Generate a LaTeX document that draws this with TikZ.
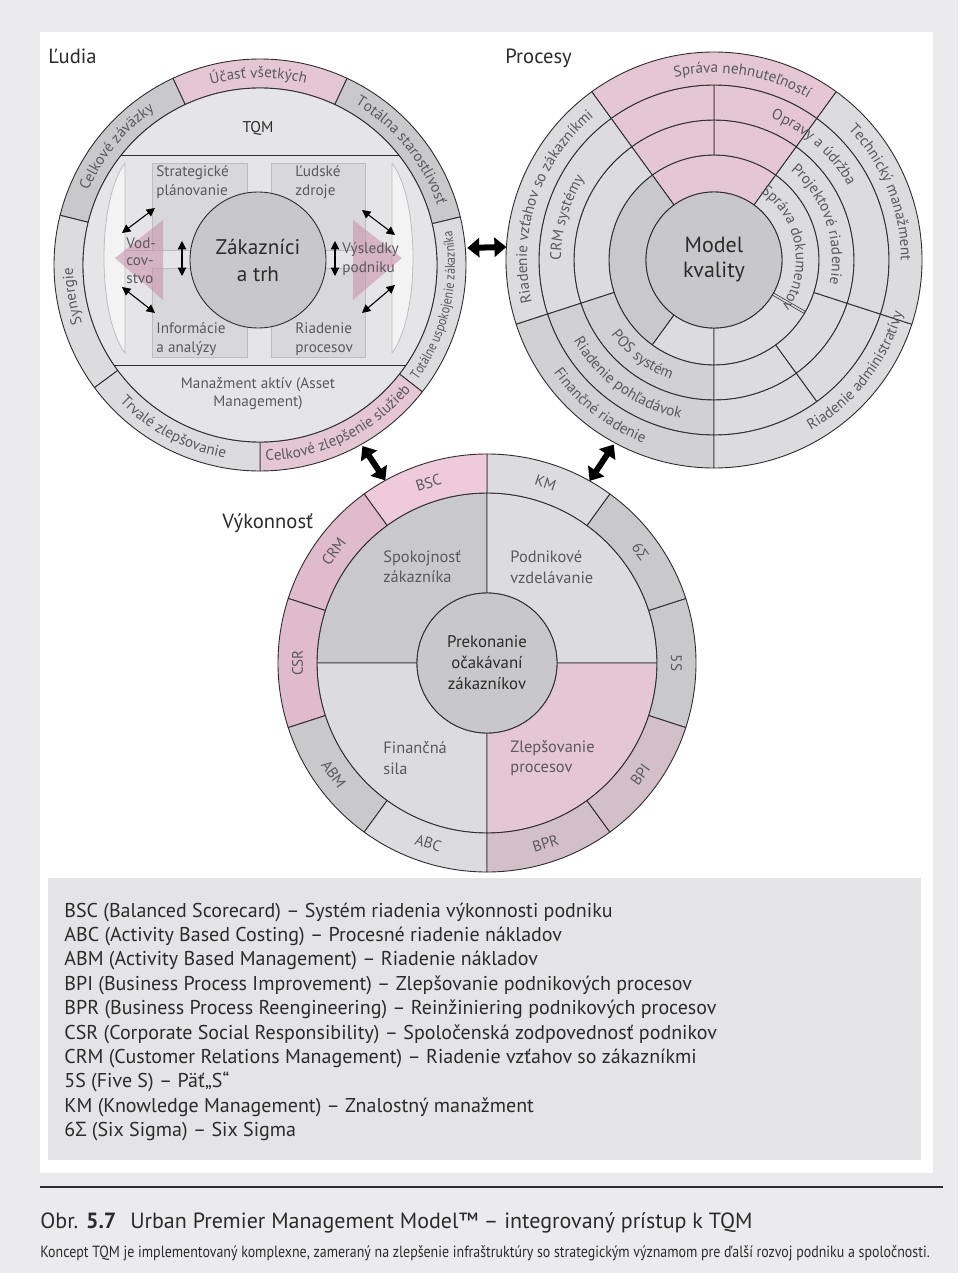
\documentclass[tikz,border=0pt]{standalone}
\usepackage{fontspec}
\setmainfont{PT Sans}
\newfontfamily\narrowfont[FakeStretch=0.86]{PT Sans}
\newfontfamily\greekfont{Open Sans}
\newfontfamily\narrowgreek[FakeStretch=0.92]{Open Sans}
\usetikzlibrary{arrows.meta, positioning, calc, decorations.text}

\definecolor{pagegrey}{HTML}{EBEBED}
\definecolor{legendgrey}{HTML}{E4E4E6}
\definecolor{linegrey}{HTML}{2E2E2E}
\definecolor{seglight}{HTML}{DCDCDE}
\definecolor{segmid}{HTML}{D1D1D3}
\definecolor{segdark}{HTML}{C9C9CB}
\definecolor{segpink}{HTML}{E4C7D3}
\definecolor{segrose}{HTML}{EFCADB}
\definecolor{segberry}{HTML}{E0BBCB}
\definecolor{segmauve}{HTML}{D2BFC7}
\definecolor{discgrey}{HTML}{E5E5E7}
\definecolor{hubgrey}{HTML}{C8C8CA}
\definecolor{boxgrey}{HTML}{D8D8DA}
\definecolor{boxedge}{HTML}{BDBDBF}
\definecolor{ringtxt}{HTML}{5A5A5C}
\definecolor{darktxt}{HTML}{2B2B2B}
\definecolor{arrowpink}{HTML}{C98CA6}

\newcommand{\ringfont}{\fontsize{7.6}{9}\selectfont}
\newcommand{\tightfont}{\narrowfont\fontsize{7}{8}\selectfont}
\newcommand{\legfont}{\fontsize{10}{12}\selectfont}

% annular sector: fill, start angle, end angle, inner radius, outer radius
\newcommand{\seg}[5]{%
  \filldraw[segline, fill=#1] (#2:#4) arc[start angle=#2, end angle=#3, radius=#4]
    -- (#3:#5) arc[start angle=#3, end angle=#2, radius=#5] -- cycle;}
% ring labels: radius of baseline, middle angle, text
\newcommand{\cwtext}[4][\ringfont]{%
  \path[decorate, decoration={text along path, text align=center, text color=ringtxt,
    text={|#1|#4}}] ({#3+75}:#2) arc[start angle={#3+75}, end angle={#3-75}, radius=#2];}
\newcommand{\ccwtext}[4][\ringfont]{%
  \path[decorate, decoration={text along path, text align=center, text color=ringtxt,
    text={|#1|#4}}] ({#3-75}:#2) arc[start angle={#3-75}, end angle={#3+75}, radius=#2];}

\begin{document}
\begin{tikzpicture}[x=0.5pt, y=0.5pt, line join=round]
  \tikzstyle{segline}=[draw=linegrey, line width=0.45pt]
  \tikzstyle{hub}=[circle, draw=linegrey, line width=0.45pt, fill=hubgrey, inner sep=0, align=center, text=darktxt]
  \tikzstyle{boxtxt}=[inner sep=0, align=left, text=ringtxt, font=\fontsize{7.6}{9.5}\selectfont]
  \tikzstyle{quadtxt}=[inner sep=0, align=left, text=ringtxt, font=\fontsize{8.2}{10.2}\selectfont]
  \tikzstyle{ringlabel}=[inner sep=0, text=ringtxt, font=\ringfont]
  \tikzstyle{grouplabel}=[inner sep=0, anchor=base west, text=darktxt, font=\fontsize{10.3}{12}\selectfont]
  \tikzstyle{panel}=[fill=boxgrey, draw=boxedge, line width=0.4pt]
  \tikzstyle{bevel}=[fill=white, fill opacity=0.55, draw=boxedge, line width=0.4pt]
  \tikzstyle{bigarrow}=[line width=3pt, {Triangle[width=9.5pt,length=6pt]}-{Triangle[width=9.5pt,length=6pt]}]
  \tikzstyle{smallarrow}=[line width=0.55pt, {Triangle[width=4.2pt,length=4.2pt]}-{Triangle[width=4.2pt,length=4.2pt]}]
  \tikzstyle{legline}=[inner sep=0, anchor=base west, text=darktxt, font=\legfont]

  \useasboundingbox (0,0) rectangle (958,-1273);
  \fill[pagegrey] (0,0) rectangle (958,-1273);
  \fill[white] (40,-32) rectangle (933,-1173);

  % ---- Ludia ----
  \begin{scope}[shift={(260,-265)}]
    \seg{segpink}{65}{115}{177}{206}
    \seg{segdark}{13.5}{65}{177}{206}
    \seg{seglight}{-38}{13.5}{177}{206}
    \seg{segpink}{-90}{-38}{177}{206}
    \seg{seglight}{-143.5}{-90}{177}{206}
    \seg{seglight}{166}{216.5}{177}{206}
    \seg{segdark}{115}{166}{177}{206}
    \filldraw[segline, fill=discgrey] (0,0) circle[radius=177];
    \begin{scope}
      \clip (0,0) circle[radius=177];
      \draw[segline] (-190,110) -- (190,110);
      \draw[segline] (-190,-100) -- (190,-100);
    \end{scope}
    \cwtext{187}{90.5}{Účasť všetkých}
    \cwtext{187}{39}{Totálna starostlivosť}
    \cwtext{187}{140.5}{Celkové záväzky}
    \cwtext{187}{189.5}{Synergie}
    \ccwtext{196}{-118}{Trvalé zlepšovanie}
    \ccwtext{196}{-64}{Celkové zlepšenie služieb}
    \ccwtext[\tightfont]{195}{-13}{Totálne uspokojenie zákazníka}
    \coordinate (l-e) at (4.7:208);
    \coordinate (l-s) at (-60.5:208);
  \end{scope}

  \filldraw[bevel] (125,-163) .. controls (97,-200) and (97,-316) .. (125,-353) -- cycle;
  \filldraw[bevel] (392,-163) .. controls (420,-200) and (420,-316) .. (392,-353) -- cycle;
  \draw[panel] (152,-163) rectangle (247,-250);
  \draw[panel] (152,-268) rectangle (247,-357);
  \draw[panel] (271,-163) rectangle (365,-250);
  \draw[panel] (271,-268) rectangle (365,-357);
  \draw[boxedge] (125,-250) -- (152,-250) (365,-250) -- (392,-250);
  \fill[arrowpink, opacity=0.55] (163,-220) -- (115,-258) -- (163,-300) -- cycle;
  \fill[arrowpink, opacity=0.55] (353,-220) -- (402,-258) -- (353,-300) -- cycle;

  \node[inner sep=0, text=darktxt, font=\fontsize{7.8}{9}\selectfont] (tqm) at (258,-128) {TQM};
  \node[inner sep=0, align=center, text=ringtxt, font=\fontsize{7.6}{9}\selectfont] (asset) at (258,-394) {Manažment aktív (Asset\\Management)};
  \node[boxtxt, anchor=north west] (strat) at (156,-165) {Strategické\\plánovanie};
  \node[boxtxt, anchor=north west] (zdroje) at (295,-165) {Ľudské\\zdroje};
  \node[boxtxt, anchor=north west] (info) at (156,-322) {Informácie\\a analýzy};
  \node[boxtxt, anchor=north west] (riad) at (295,-322) {Riadenie\\procesov};
  \node[boxtxt, anchor=north west, font=\fontsize{7.6}{8.8}\selectfont] (vod) at (126,-237) {Vod-\\cov-\\stvo};
  \node[boxtxt, anchor=north west] (vysl) at (342,-242) {Výsledky\\podniku};
  \node[hub, minimum size=68pt, font=\fontsize{10.6}{13.5}\selectfont] (trh) at (258,-260) {Zákazníci\\a trh};

  \path (122,-233) coordinate (v1a) (155,-208) coordinate (v1b)
        (122,-287) coordinate (v2a) (155,-313) coordinate (v2b)
        (362,-210) coordinate (v3a) (395,-235) coordinate (v3b)
        (362,-313) coordinate (v4a) (395,-285) coordinate (v4b)
        (182,-241) coordinate (v5a) (182,-276) coordinate (v5b)
        (335,-241) coordinate (v6a) (335,-276) coordinate (v6b);
  \foreach \i in {1,...,6}
    \draw[smallarrow] (v\i a) -- (v\i b);

  % ---- Procesy ----
  \begin{scope}[shift={(714,-260)}]
    \seg{segpink}{54}{126}{68}{105}
    \seg{segdark}{126}{234}{68}{105}
    \seg{seglight}{234}{270}{68}{105}
    \seg{seglight}{270}{330}{68}{105}
    \seg{seglight}{-30}{54}{68}{105}
    \foreach \ri/\ro in {105/140, 140/175} {
      \seg{segpink}{54}{90}{\ri}{\ro}
      \seg{segpink}{90}{126}{\ri}{\ro}
      \seg{seglight}{126}{198}{\ri}{\ro}
      \seg{segmid}{198}{270}{\ri}{\ro}
      \seg{seglight}{270}{306}{\ri}{\ro}
      \seg{seglight}{306}{342}{\ri}{\ro}
      \seg{seglight}{-18}{54}{\ri}{\ro}
    }
    \seg{segpink}{54}{126}{175}{208}
    \seg{seglight}{126}{198}{175}{208}
    \seg{segmid}{198}{270}{175}{208}
    \seg{seglight}{270}{342}{175}{208}
    \seg{seglight}{-18}{54}{175}{208}
    \draw[linegrey, line width=0.35pt, double=seglight, double distance=0.8pt] (-30:68) -- (-30:104);
    \cwtext{187}{81}{Správa nehnuteľností}
    \cwtext{153}{48.5}{Opravy a údržba}
    \cwtext{187}{22}{Technický manažment}
    \cwtext{118}{19}{Projektové riadenie}
    \cwtext{82}{10.5}{Správa dokumentov}
    \ccwtext{196}{-38}{Riadenie administratívy}
    \cwtext{187}{161.5}{Riadenie vzťahov so zákazníkmi}
    \cwtext{153}{164}{CRM systémy}
    \ccwtext{127}{233}{POS systém}
    \ccwtext{162}{234}{Riadenie pohľadávok}
    \ccwtext{196}{232}{Finančné riadenie}
    \coordinate (p-w) at (176.4:208);
    \coordinate (p-s) at (241.5:210);
  \end{scope}
  \node[hub, minimum size=68pt, font=\fontsize{11}{12.5}\selectfont] (model) at (714,-260) {Model\\kvality};

  % ---- Vykonnost ----
  \begin{scope}[shift={(487,-663)}]
    \seg{segdark}{90}{180}{70}{170}
    \seg{seglight}{0}{90}{70}{170}
    \seg{seglight}{180}{270}{70}{170}
    \seg{segpink}{270}{360}{70}{170}
    \foreach \a/\r/\c/\t in {0/-90/segdark/5S, 36/-54/segdark/{6{\greekfont Σ}},
        72/-18/seglight/KM, 108/18/segrose/BSC, 144/54/segberry/CRM,
        180/90/segberry/CSR, 216/-54/segdark/ABM, 252/-18/seglight/ABC,
        288/18/segmauve/BPR, 324/54/segmauve/BPI} {
      \seg{\c}{\a-18}{\a+18}{170}{209}
      \node[ringlabel, rotate=\r] (r\a) at (\a:189.5) {\t};
    }
    \coordinate (v-nw) at (119.1:209);
    \coordinate (v-ne) at (60.6:209);
  \end{scope}
  \node[hub, minimum size=70pt, font=\fontsize{8.4}{10.5}\selectfont] (prek) at (487,-663) {Prekonanie\\očakávaní\\zákazníkov};
  \node[quadtxt, anchor=west] (spok) at (383,-567) {Spokojnosť\\zákazníka};
  \node[quadtxt, anchor=west] (podn) at (510,-567) {Podnikové\\vzdelávanie};
  \node[quadtxt, anchor=west] (fin) at (383,-758) {Finančná\\sila};
  \node[quadtxt, anchor=west] (zlep) at (510,-758) {Zlepšovanie\\procesov};

  % links between the three wheels
  \draw[bigarrow] (l-e) -- (p-w);
  \draw[bigarrow] (l-s) -- (v-nw);
  \draw[bigarrow] (p-s) -- (v-ne);

  \node[grouplabel] (ludia) at (48,-64) {Ľudia};
  \node[grouplabel] (procesy) at (505,-64) {Procesy};
  \node[grouplabel] (vykon) at (222,-528) {Výkonnosť};

  % legend
  \fill[legendgrey] (48,-878) rectangle (921,-1160);
  \foreach \t [count=\i from 0] in {
      {BSC (Balanced Scorecard) – Systém riadenia výkonnosti podniku},
      {ABC (Activity Based Costing) – Procesné riadenie nákladov},
      {ABM (Activity Based Management) – Riadenie nákladov},
      {BPI (Business Process Improvement) – Zlepšovanie podnikových procesov},
      {BPR (Business Process Reengineering) – Reinžiniering podnikových procesov},
      {CSR (Corporate Social Responsibility) – Spoločenská zodpovednosť podnikov},
      {CRM (Customer Relations Management) – Riadenie vzťahov so zákazníkmi},
      {5S (Five S) – Päť„S“},
      {KM (Knowledge Management) – Znalostný manažment},
      {6{\greekfont Σ} (Six Sigma) – Six Sigma}}
    \node[legline] (leg\i) at (64,{-917-24.4*\i}) {\t};

  % caption
  \draw[linegrey, line width=0.6pt] (40,-1187) -- (943,-1187);
  \node[inner sep=0, anchor=base west, text=darktxt, font=\fontsize{11}{13}\selectfont] (obr) at (40,-1228)
    {Obr. {\bfseries 5.7}\hspace{4pt} Urban Premier Management Model™ – integrovaný prístup k~TQM};
  \node[inner sep=0, anchor=base west, text=darktxt, font=\narrowfont\fontsize{8.1}{9}\selectfont] (note) at (40,-1257)
    {Koncept TQM je implementovaný komplexne, zameraný na zlepšenie infraštruktúry so strategickým významom pre ďalší rozvoj podniku a spoločnosti.};
\end{tikzpicture}
\end{document}
